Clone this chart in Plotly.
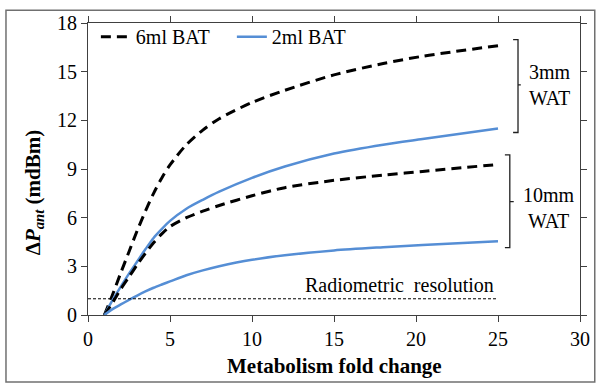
import plotly.graph_objects as go

# Data
fold = [1, 1.4, 2, 2.5, 3, 3.5, 4, 4.5, 5, 6, 7, 8, 10, 12, 15, 18, 20.4, 25]
bat6_wat3 = [0, 1.0, 2.6, 3.9, 5.2, 6.4, 7.5, 8.45, 9.25, 10.5, 11.4, 12.1, 13.1, 13.85, 14.8, 15.5, 15.95, 16.6]
bat6_wat10 = [0, 0.6, 1.6, 2.35, 3.1, 3.8, 4.45, 5.0, 5.45, 6.0, 6.4, 6.75, 7.35, 7.85, 8.3, 8.62, 8.85, 9.28]
bat2_wat3 = [0, 0.75, 1.75, 2.55, 3.3, 4.05, 4.75, 5.3, 5.8, 6.55, 7.1, 7.6, 8.45, 9.15, 9.95, 10.5, 10.85, 11.5]
bat2_wat10 = [0, 0.3, 0.65, 0.93, 1.2, 1.45, 1.68, 1.88, 2.07, 2.45, 2.75, 3.0, 3.4, 3.68, 3.98, 4.18, 4.32, 4.55]
resolution_x = [0, 25]
resolution_y = [1, 1]
x_ticks = [0, 5, 10, 15, 20, 25, 30]
y_ticks = [0, 3, 6, 9, 12, 15, 18]

BLACK = "black"
BLUE = "#558ED5"
FONT = "'Times New Roman', 'Liberation Serif', Tinos, serif"

fig = go.Figure()
fig.add_trace(go.Scatter(x=fold, y=bat6_wat3, mode="lines", name="6ml BAT",
                         line=dict(color=BLACK, width=3, dash="10px,6px", shape="spline", smoothing=0.8),
                         legendgroup="6"))
fig.add_trace(go.Scatter(x=fold, y=bat2_wat3, mode="lines", name="2ml BAT",
                         line=dict(color=BLUE, width=2.5, shape="spline", smoothing=0.8),
                         legendgroup="2"))
fig.add_trace(go.Scatter(x=fold, y=bat6_wat10, mode="lines", name="6ml BAT",
                         line=dict(color=BLACK, width=3, dash="10px,6px", shape="spline", smoothing=0.8),
                         showlegend=False, legendgroup="6"))
fig.add_trace(go.Scatter(x=fold, y=bat2_wat10, mode="lines", name="2ml BAT",
                         line=dict(color=BLUE, width=2.5, shape="spline", smoothing=0.8),
                         showlegend=False, legendgroup="2"))
fig.add_trace(go.Scatter(x=resolution_x, y=resolution_y, mode="lines", showlegend=False,
                         line=dict(color=BLACK, width=1, dash="3px,2px")))

axis_common = dict(showline=True, linecolor="#404040", linewidth=1.2, mirror="ticks",
                   ticks="outside", ticklen=6, tickcolor="#404040", tickwidth=1,
                   showgrid=False, zeroline=False,
                   tickfont=dict(family=FONT, size=20, color="black"))

fig.update_xaxes(range=[0, 30], tickvals=x_ticks, **axis_common)
fig.update_yaxes(range=[0, 18], tickvals=y_ticks, **axis_common)

# brackets (paths in data coordinates)
fig.add_shape(type="path", xref="x", yref="y",
              path="M 25.92,16.98 L 26.22,16.98 L 26.22,14.18 L 26.39,14.18 M 26.22,14.18 L 26.22,11.25 L 25.92,11.25",
              line=dict(color="#202020", width=1.3))
fig.add_shape(type="path", xref="x", yref="y",
              path="M 25.42,9.87 L 25.72,9.87 L 25.72,6.99 L 25.96,6.99 M 25.72,6.99 L 25.72,4.15 L 25.42,4.15",
              line=dict(color="#202020", width=1.3))

# outer frame
fig.add_shape(type="rect", xref="paper", yref="paper",
              x0=-0.1667, x1=1.030, y0=-0.2297, y1=1.0439,
              line=dict(color="#707070", width=1.5))

fig.add_annotation(x=28.15, y=14.16, xref="x", yref="y", text="3mm<br>WAT", showarrow=False,
                   font=dict(family=FONT, size=20, color="black"))
fig.add_annotation(x=28.1, y=6.6, xref="x", yref="y", text="10mm<br>WAT", showarrow=False,
                   font=dict(family=FONT, size=20, color="black"))
fig.add_annotation(x=19.0, y=1.0, xref="x", yref="y", yanchor="bottom", yshift=1,
                   text="Radiometric  resolution", showarrow=False,
                   font=dict(family=FONT, size=20, color="black"))

# axis titles
fig.add_annotation(x=0.5, y=-0.176, xref="paper", yref="paper", yanchor="middle",
                   text="<b>Metabolism fold change</b>", showarrow=False,
                   font=dict(family=FONT, size=21, color="black"))
fig.add_annotation(x=-0.11, y=0.42, xref="paper", yref="paper", textangle=-90,
                   xanchor="center", yanchor="middle",
                   text="<b>Δ<i>P</i><sub><i>ant</i></sub> (mdBm)</b>", showarrow=False,
                   font=dict(family=FONT, size=21, color="black"))

fig.update_layout(
    width=602, height=385,
    margin=dict(l=88, r=16, t=19, b=70),
    plot_bgcolor="white", paper_bgcolor="white",
    font=dict(family=FONT, size=20, color="black"),
    legend=dict(orientation="h", x=0.016, y=1.02, xanchor="left", yanchor="top",
                bgcolor="rgba(0,0,0,0)", font=dict(family=FONT, size=20),
                tracegroupgap=0, itemwidth=30, entrywidth=91),
    showlegend=True,
)

fig.write_html("out.html", post_script="document.body.style.margin='0';",
               config={"displayModeBar": False})
